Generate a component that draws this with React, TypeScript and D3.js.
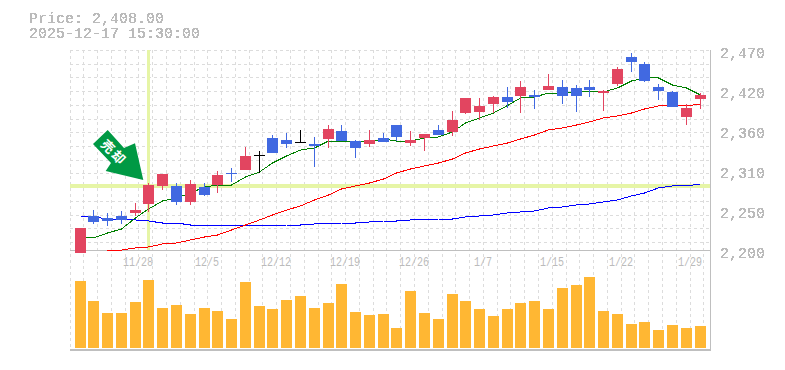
import React from "react";
import * as d3 from "d3";

const opens = [2200,2250,2247,2250,2254,2266,2290,2290,2269,2289,2292,2308,2312,2332,2355,2353,2350,2347,2354,2365,2351,2347,2355,2373,2349,2355,2366,2363,2389,2390,2401,2411,2412,2413,2420,2424,2423,2424,2416,2428,2465,2455,2424,2417,2384,2408];
const highs = [2234,2258,2254,2257,2268,2295,2307,2295,2299,2295,2311,2315,2343,2338,2359,2362,2366,2357,2373,2373,2353,2366,2362,2373,2365,2361,2373,2392,2409,2409,2412,2424,2432,2420,2442,2434,2427,2434,2420,2451,2470,2458,2428,2419,2401,2416];
const lows = [2200,2239,2236,2239,2250,2255,2285,2265,2265,2277,2281,2296,2312,2308,2335,2342,2350,2316,2342,2351,2328,2343,2350,2351,2344,2338,2359,2358,2388,2380,2389,2396,2389,2394,2420,2401,2390,2411,2392,2425,2444,2431,2407,2397,2373,2394];
const closes = [2234,2242,2243,2245,2258,2292,2307,2269,2293,2278,2305,2307,2331,2332,2335,2347,2350,2344,2367,2351,2342,2353,2350,2357,2353,2361,2359,2380,2409,2398,2411,2404,2424,2411,2425,2412,2412,2420,2419,2448,2458,2432,2419,2397,2396,2413];

const ma5 = [2221.6,2220.3,2227,2232.4,2247.3,2259.4,2270.2,2274.3,2281,2289.1,2291.8,2291.8,2302.6,2309.4,2321.5,2331,2339,2341.8,2351.2,2351.2,2351.2,2349.9,2353.9,2351.2,2351.2,2355.3,2356.6,2363.4,2375.5,2382.3,2389,2399.1,2409.3,2410.6,2416,2416,2417.4,2417.4,2417.4,2422.8,2432.2,2436.3,2436.3,2426.8,2422.8,2413.3];
const ma25 = [2202.7,2204,2206.8,2208.1,2212.2,2213.5,2217.6,2221.6,2224.3,2231,2237.8,2244.6,2251.3,2258,2263.5,2271.6,2278.3,2286.4,2290.5,2294.5,2299.9,2308,2313.4,2317.5,2321.5,2326.9,2335,2340.4,2344.5,2348.5,2353.9,2359.3,2366.1,2368.8,2372.8,2376.9,2382.3,2385,2389,2394.4,2398.5,2398.5,2398.5,2401.2];
const ma25Start = 2;
const ma75 = [2250,2248.6,2245.9,2244.6,2244.6,2243.2,2240.5,2240.5,2237.8,2237.8,2236.5,2236.5,2236.5,2236.5,2236.5,2237.8,2237.8,2239.2,2239.2,2240.5,2240.5,2241.9,2243.2,2243.2,2244.6,2244.6,2245.9,2245.9,2248.6,2250,2251.3,2254,2255.4,2256.7,2260.8,2262.1,2264.8,2266.2,2268.9,2271.6,2277,2281,2287.8,2290.5,2290.5,2293.2];

const volumes = [67,47,35,35,46,68,40,43,34,40,37,29,66,42,39,48,52,40,45,64,36,33,34,20,57,35,29,54,47,39,32,39,45,47,39,60,63,71,37,34,24,26,18,23,20,22];

const priceTicks = [2200,2254,2308,2362,2416,2470];
const dateTicks = ["11/28","12/5","12/12","12/19","12/26","1/7","1/15","1/22","1/29"];
const headerLines = ["Price: 2,408.00","2025-12-17 15:30:00"];
const arrowLabel = "売却";
const crossIndex = 5;
const crossPrice = 2292;

const UP = "#e24560";
const DOWN = "#4169e1";
const GRID = "#dcdcdc";
const AXIS = "#bfbfbf";
const TEXT = "#bbbbbb";
const MONO = '"Liberation Mono", monospace';

const x = d3.scaleLinear().domain([0, 46]).range([70, 703.88]);
const y = d3.scaleLinear().domain([2200, 2470]).range([253, 53]);
const vy = d3.scaleLinear().domain([0, 100]).range([348, 248]);
const left = (i: number) => Math.floor(x(i) + 5);
const cx = (i: number) => left(i) + 5.5;

const line = (start: number) =>
  d3.line<number>().x((_, i) => cx(i + start)).y((d) => y(d));

const gridV = d3.range(0, 47).map((k) => Math.floor(x(k)) + 0.5);
const gridH = d3.range(0, 15).map((k) => Math.round(50 + 13.72 * k) + 0.5);

export default function App() {
  return (
    <svg width={785} height={370} style={{ position: "absolute", left: 0, top: 0, background: "#fff" }}>
      <defs>
        <filter id="hard" x="-5%" y="-20%" width="110%" height="140%" colorInterpolationFilters="sRGB">
          <feComponentTransfer>
            <feFuncA type="discrete" tableValues="0 1 1" />
          </feComponentTransfer>
        </filter>
      </defs>
      <g stroke={GRID} strokeWidth={1} strokeDasharray="3 3" shapeRendering="crispEdges">
        {gridV.map((gx, k) => <line key={k} x1={gx} x2={gx} y1={50} y2={350} />)}
        {gridH.map((gy, k) => <line key={k} x1={70} x2={710} y1={gy} y2={gy} />)}
      </g>
      <g fill="#e6f5a6" shapeRendering="crispEdges">
        <rect x={left(crossIndex) + 4} y={50} width={3} height={200} />
        <rect x={70} y={Math.round(y(crossPrice)) - 1} width={640} height={4} />
      </g>
      <g stroke={AXIS} fill="none" shapeRendering="crispEdges">
        <line x1={70} x2={710} y1={250.5} y2={250.5} strokeWidth={1} />
        <line x1={70} x2={711} y1={350} y2={350} strokeWidth={2} />
        <line x1={710.5} x2={710.5} y1={50} y2={351} strokeWidth={1.5} />
      </g>
      <g fill="none" strokeWidth={1} shapeRendering="crispEdges">
        <path d={line(0)(ma75) ?? ""} stroke="#0000ff" />
        <path d={line(ma25Start)(ma25) ?? ""} stroke="#ff0000" />
        <path d={line(0)(ma5) ?? ""} stroke="#008000" />
      </g>
      <g shapeRendering="crispEdges">
        {opens.map((o, i) => {
          const c = closes[i];
          const doji = i === 13 || i === 16;
          const fill = doji ? "#000000" : c > o ? UP : DOWN;
          const top = Math.round(y(Math.max(o, c)));
          const h = Math.max(1, Math.round(y(Math.min(o, c))) - top);
          return (
            <g key={i} fill={fill}>
              <rect x={left(i) + 5} y={Math.round(y(highs[i]))} width={1} height={Math.round(y(lows[i])) - Math.round(y(highs[i]))} />
              <rect x={left(i)} y={top} width={11} height={h} />
            </g>
          );
        })}
      </g>
      <g fill="#ffb733" shapeRendering="crispEdges">
        {volumes.map((v, i) => (
          <rect key={i} x={left(i)} y={vy(v)} width={11} height={vy(0) - vy(v)} />
        ))}
      </g>
      <polygon points="107.7,130 124,148 135,143.3 143.3,180 105.7,171 111,163 93,144" fill="#009944" />
      <g transform="translate(114.5,152) rotate(45)">
        <text textAnchor="middle" dominantBaseline="central" fill="#fff" fontSize={13} fontWeight={700} letterSpacing={2} fontFamily='"Noto Sans CJK JP"'>{arrowLabel}</text>
      </g>
      <g fill={TEXT} fontFamily={MONO}>
        <g filter="url(#hard)">
          {headerLines.map((t, i) => (
            <text key={t} x={29} y={23 + i * 14.5} fontSize={15}>{t}</text>
          ))}
          {priceTicks.map((p) => (
            <text key={p} x={720} y={y(p) + 4.5} fontSize={15}>
              {d3.format(",")(Math.round(p / 10) * 10)}
            </text>
          ))}
        </g>
        {dateTicks.map((t, i) => (
          <text key={t} x={Math.floor(x((i + 1) * 5))} y={266} fontSize={12} textAnchor="middle"
            textLength={t.length * 6} lengthAdjust="spacingAndGlyphs">{t}</text>
        ))}
      </g>
    </svg>
  );
}
